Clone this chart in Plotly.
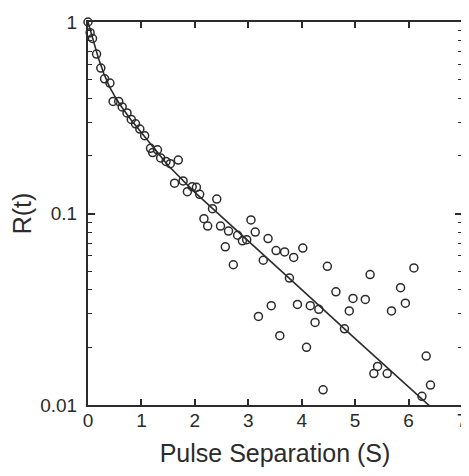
import plotly.graph_objects as go

# Measured data points (pulse separation in s, R(t))
sep_s = [0.00, 0.04, 0.085, 0.16, 0.24, 0.31, 0.41, 0.47, 0.575, 0.64,
         0.73, 0.81, 0.89, 0.97, 1.06, 1.17, 1.21, 1.30, 1.36, 1.46,
         1.54, 1.69, 1.62, 1.78, 1.86, 1.95, 2.03, 2.09, 2.33, 2.41,
         2.17, 2.24, 2.48, 2.63, 2.80, 2.89, 2.97, 3.05, 3.13, 3.37,
         2.57, 2.72, 3.28, 3.52, 3.68, 3.85, 4.02, 3.77, 4.48, 4.64,
         3.19, 3.43, 3.92, 4.16, 4.32, 4.25, 3.59, 4.09, 4.40, 4.80,
         4.96, 4.89, 5.19, 5.28, 5.68, 5.85, 5.94, 6.10, 6.33, 6.41,
         6.25, 5.42, 5.35, 5.60, 5.52]
r_vals = [1.00, 0.88, 0.82, 0.68, 0.575, 0.505, 0.48, 0.385, 0.385, 0.36,
          0.335, 0.31, 0.294, 0.276, 0.255, 0.219, 0.208, 0.215, 0.195, 0.187,
          0.182, 0.19, 0.144, 0.148, 0.130, 0.138, 0.137, 0.126, 0.106, 0.119,
          0.094, 0.086, 0.086, 0.081, 0.077, 0.072, 0.073, 0.0925, 0.080, 0.074,
          0.067, 0.054, 0.057, 0.064, 0.063, 0.059, 0.066, 0.046, 0.053, 0.039,
          0.029, 0.033, 0.0335, 0.033, 0.0316, 0.027, 0.023, 0.020, 0.012, 0.025,
          0.036, 0.031, 0.0356, 0.048, 0.031, 0.041, 0.034, 0.052, 0.018, 0.0127,
          0.0111, 0.0159, 0.0146, 0.0146, 0.0099]

# Fitted curve
fit_x = [0, 0.05, 0.1, 0.2, 0.3, 0.4, 0.5, 0.6, 0.8, 1.0, 1.25, 1.5,
         2.0, 2.5, 3.0, 4.0, 5.0, 6.0, 6.5]
fit_r = [1.0, 0.89, 0.79, 0.64, 0.535, 0.46, 0.41, 0.37, 0.31, 0.265, 0.215, 0.178,
         0.129, 0.096, 0.0716, 0.040, 0.0222, 0.0124, 0.0093]

x_ticks = [0, 1, 2, 3, 4, 5, 6, 7]
y_ticks = [0.01, 0.1, 1]
y_tick_text = ["0.01", "0.1", "1"]

ink = "#2b2b2b"
font_family = "Liberation Sans, Arial, sans-serif"

fig = go.Figure()
fig.add_trace(go.Scatter(
    x=fit_x, y=fit_r, mode="lines",
    line=dict(color=ink, width=1.6),
    showlegend=False, hoverinfo="skip",
))
fig.add_trace(go.Scatter(
    x=sep_s, y=r_vals, mode="markers",
    marker=dict(symbol="circle-open", size=8, color=ink, line=dict(color=ink, width=1.5)),
    showlegend=False, cliponaxis=False,
))

# page body has an 8px default margin; size the figure to fill the 469x476 window
fig.update_layout(
    width=461, height=468,
    margin=dict(l=80, r=7, t=14, b=71),
    paper_bgcolor="white", plot_bgcolor="white",
    font=dict(family=font_family, color=ink),
)
fig.update_xaxes(
    range=[0, 7], tickvals=x_ticks, ticktext=[str(v) for v in x_ticks],
    showgrid=False, zeroline=False, automargin=False,
    showline=True, linecolor=ink, linewidth=2, mirror="ticks",
    ticks="inside", ticklen=6, tickwidth=1.5, tickcolor=ink,
    tickfont=dict(size=19, color=ink), ticklabelstandoff=-3,
    title=dict(text="Pulse Separation (S)", font=dict(size=25, color=ink), standoff=15),
)
fig.update_yaxes(
    type="log", range=[-2, 0], tickvals=y_ticks, ticktext=y_tick_text,
    showgrid=False, zeroline=False, automargin=False,
    showline=True, linecolor=ink, linewidth=2, mirror="ticks",
    ticks="inside", ticklen=7, tickwidth=1.5, tickcolor=ink,
    tickfont=dict(size=19, color=ink), ticklabelstandoff=5,
    minor=dict(ticks="inside", ticklen=4, tickwidth=1.2, tickcolor=ink, dtick="D1", showgrid=False),
    title=dict(text="R(t)", font=dict(size=25, color=ink), standoff=6),
)

fig.write_html("out.html")
